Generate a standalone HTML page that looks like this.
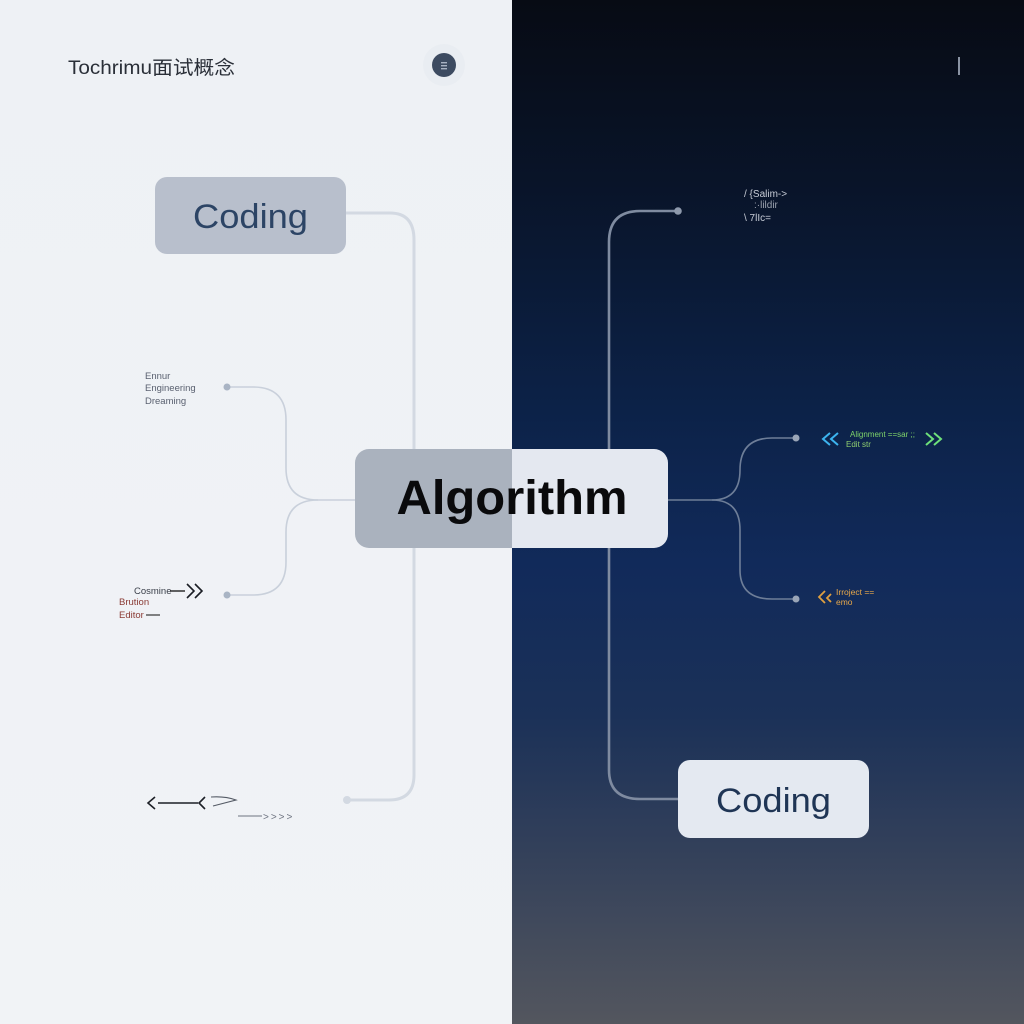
<!DOCTYPE html>
<html>
<head>
<meta charset="utf-8">
<style>
  html,body{margin:0;padding:0;width:1024px;height:1024px;overflow:hidden;background:#eff2f6;}
  svg{display:block;}
  text{font-family:"Liberation Sans","Noto Sans CJK SC",sans-serif;}
</style>
</head>
<body>
<svg width="1024" height="1024" viewBox="0 0 1024 1024" xmlns="http://www.w3.org/2000/svg">
  <defs>
    <linearGradient id="dark" x1="0" y1="0" x2="0" y2="1">
      <stop offset="0" stop-color="#070b14"/>
      <stop offset="0.18" stop-color="#091429"/>
      <stop offset="0.40" stop-color="#0c2248"/>
      <stop offset="0.55" stop-color="#112a5a"/>
      <stop offset="0.70" stop-color="#1b3158"/>
      <stop offset="0.82" stop-color="#313f5a"/>
      <stop offset="1" stop-color="#53565e"/>
    </linearGradient>
    <linearGradient id="light" x1="0" y1="0" x2="0" y2="1">
      <stop offset="0" stop-color="#eef1f5"/>
      <stop offset="1" stop-color="#f1f3f6"/>
    </linearGradient>
    <clipPath id="leftHalf"><rect x="0" y="0" width="512" height="1024"/></clipPath>
    <clipPath id="rightHalf"><rect x="512" y="0" width="512" height="1024"/></clipPath>
  </defs>

  <!-- backgrounds -->
  <rect x="0" y="0" width="512" height="1024" fill="url(#light)"/>
  <rect x="512" y="0" width="512" height="1024" fill="url(#dark)"/>

  <!-- header left -->
  <text x="68" y="74" font-size="19" fill="#2a2f38" textLength="167" lengthAdjust="spacingAndGlyphs">Tochrimu面试概念</text>
  <circle cx="444" cy="65" r="21" fill="#e9edf2"/>
  <circle cx="444" cy="65" r="12" fill="#3d4b61"/>
  <rect x="441" y="62" width="6" height="1.4" fill="#a8b2c2"/>
  <rect x="441" y="65" width="6" height="1.4" fill="#a8b2c2"/>
  <rect x="441" y="68" width="6" height="1.4" fill="#a8b2c2"/>
  <!-- header right -->
  <rect x="958" y="57" width="2" height="18" fill="#8a93a3"/>

  <!-- LEFT connectors -->
  <g fill="none" stroke="#d3d9e2" stroke-width="3" stroke-linecap="round">
    <path d="M346 213 L390 213 Q414 213 414 240 L414 775 Q414 800 389 800 L347 800"/>
  </g>
  <circle cx="347" cy="800" r="4" fill="#d3d9e2"/>
  <g fill="none" stroke="#c9d0db" stroke-width="1.6">
    <path d="M356 500 L318 500 Q286 500 286 468 L286 420 Q286 387 253 387 L227 387"/>
    <path d="M318 500 Q286 500 286 532 L286 562 Q286 595 253 595 L227 595"/>
  </g>
  <circle cx="227" cy="387" r="3.5" fill="#a9b4c4"/>
  <circle cx="227" cy="595" r="3.5" fill="#a9b4c4"/>

  <!-- RIGHT connectors -->
  <g fill="none" stroke="#7f8ba0" stroke-width="2.6">
    <path d="M678 211 L640 211 Q609 211 609 242 L609 770 Q609 799 640 799 L679 799"/>
  </g>
  <circle cx="678" cy="211" r="3.8" fill="#8e99ac"/>
  <g fill="none" stroke="#6e7e98" stroke-width="1.6">
    <path d="M668 500 L712 500 Q740 500 740 470 Q740 438 772 438 L796 438"/>
    <path d="M712 500 Q740 500 740 530 L740 570 Q740 599 772 599 L796 599"/>
  </g>
  <circle cx="796" cy="438" r="3.5" fill="#9aa5b7"/>
  <circle cx="796" cy="599" r="3.5" fill="#9aa5b7"/>

  <!-- Coding node top-left -->
  <rect x="155" y="177" width="191" height="77" rx="12" fill="#b8bfcc"/>
  <text x="250.5" y="228" font-size="34" fill="#2c4465" text-anchor="middle" textLength="115" lengthAdjust="spacingAndGlyphs">Coding</text>

  <!-- Coding node bottom-right -->
  <rect x="678" y="760" width="191" height="78" rx="12" fill="#e4e9f1"/>
  <text x="773.5" y="812" font-size="34" fill="#1f3555" text-anchor="middle" textLength="115" lengthAdjust="spacingAndGlyphs">Coding</text>

  <!-- Central Algorithm node -->
  <rect x="355" y="449" width="313" height="99" rx="14" fill="#aab2be" clip-path="url(#leftHalf)"/>
  <rect x="355" y="449" width="313" height="99" rx="14" fill="#e4e8f0" clip-path="url(#rightHalf)"/>
  <text x="512" y="514" font-size="48" font-weight="bold" fill="#0a0a0c" text-anchor="middle" textLength="231" lengthAdjust="spacingAndGlyphs">Algorithm</text>

  <!-- left small labels -->
  <g font-size="9.5" fill="#5a6170">
    <text x="145" y="379">Ennur</text>
    <text x="145" y="391">Engineering</text>
    <text x="145" y="404">Dreaming</text>
  </g>
  <text x="134" y="594" font-size="9.5" fill="#3a3f4a">Cosmine</text>
  <line x1="170" y1="591" x2="185" y2="591" stroke="#222" stroke-width="1.4"/>
  <path d="M187 584 L194 591 L187 598 M195 584 L202 591 L195 598" fill="none" stroke="#1a1d24" stroke-width="1.6"/>
  <text x="119" y="605" font-size="9.5" fill="#8a3a34">Brution</text>
  <text x="119" y="618" font-size="9.5" fill="#8a3a34">Editor</text>
  <line x1="146" y1="615" x2="160" y2="615" stroke="#333" stroke-width="1.2"/>

  <!-- bottom-left arrows -->
  <g fill="none" stroke="#1c1f26" stroke-width="1.6">
    <path d="M155 797 L148 803 L155 809"/>
    <line x1="158" y1="803" x2="198" y2="803"/>
    <path d="M205 797 L199 803 L205 809"/>
  </g>
  <path d="M211 797 Q225 796 236 800 L213 806" fill="none" stroke="#555b66" stroke-width="1.1"/>
  <line x1="238" y1="816" x2="262" y2="816" stroke="#6d7380" stroke-width="1.1"/>
  <text x="263" y="820" font-size="10" fill="#6d7380" letter-spacing="2">&gt;&gt;&gt;&gt;</text>

  <!-- right top code label -->
  <g fill="#c7ccd6" font-size="10" font-family="Liberation Mono, monospace">
    <text x="744" y="197">/ {Salim-&gt;</text>
    <text x="754" y="208" fill="#9aa1ad">:·lildir</text>
    <text x="744" y="221">\ 7lIc=</text>
  </g>

  <!-- right mid colored label -->
  <path d="M830 433 L823 439 L830 445 M838 433 L831 439 L838 445" fill="none" stroke="#3cb4ef" stroke-width="2"/>
  <text x="850" y="437" font-size="8" fill="#7fd36a">Alignment ==sar  ;;</text>
  <text x="846" y="447" font-size="8" fill="#8fcf70">Edit str</text>
  <path d="M926 433 L933 439 L926 445 M934 433 L941 439 L934 445" fill="none" stroke="#6ee07a" stroke-width="2"/>

  <!-- right lower orange label -->
  <path d="M825 591 L819 597 L825 603 M831 594 L827 598 L831 602" fill="none" stroke="#e0a040" stroke-width="1.8"/>
  <text x="836" y="595" font-size="8.5" fill="#e8a84a">Irroject ==</text>
  <text x="836" y="605" font-size="8.5" fill="#e8a84a">emo</text>
</svg>
</body>
</html>
